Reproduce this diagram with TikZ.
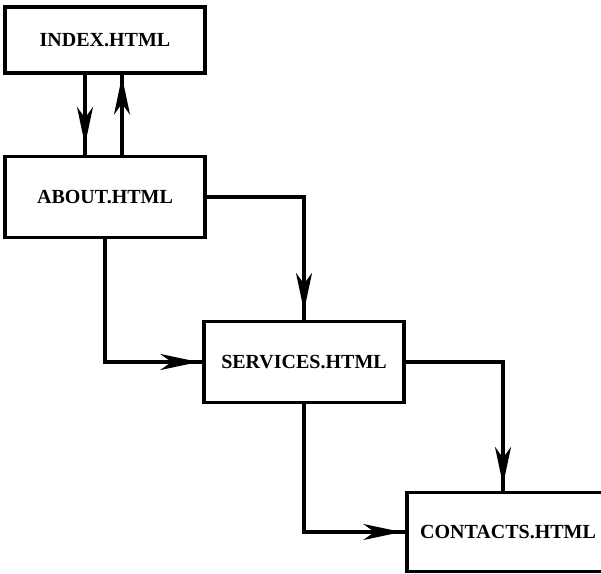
\documentclass[tikz,border=0pt]{standalone}
\usepackage{fontspec}
\setmainfont{Liberation Serif}
\usetikzlibrary{arrows.meta,decorations.markings}

\tikzset{
  page/.style={draw, line width=3.2pt, fill=white, font=\bfseries\fontsize{20}{24}\selectfont,
    minimum width=200pt, minimum height=81pt, inner sep=0pt},
  link/.style={draw, line width=3.2pt, postaction={decorate},
    decoration={markings, mark=at position #1 with {\arrow{Stealth[length=38pt,width=16pt,inset=11pt]}}}},
}

\begin{document}
\begin{tikzpicture}[x=1pt, y=-1pt]
\useasboundingbox (0,0) rectangle (601,573);

\node[page, minimum height=66pt] (index) at (105,40) {INDEX.HTML};
\node[page] (about) at (105,197) {ABOUT.HTML};
\node[page] (services) at (304,362) {SERVICES.HTML};
\node[page, minimum width=202pt, minimum height=79pt] (contacts) at (508,532) {CONTACTS.HTML};

\path[link=-10pt] ([xshift=-20pt]index.south) -- ([xshift=-20pt]about.north);
\path[link=-2pt] ([xshift=17pt]about.north) -- ([xshift=17pt]index.south);
\path[link=-9pt] (about.east) -| (services.north);
\path[link=-4pt] (about.south) |- (services.west);
\path[link=-6pt] (services.east) -| ([xshift=-5pt]contacts.north);
\path[link=-4pt] (services.south) |- (contacts.west);
\end{tikzpicture}
\end{document}
